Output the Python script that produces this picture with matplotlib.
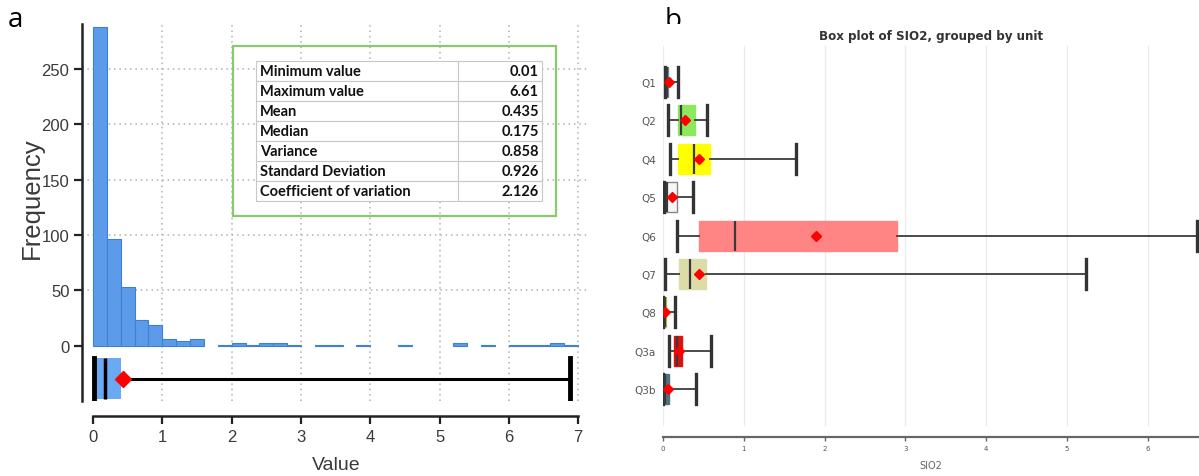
import numpy as np
import matplotlib
matplotlib.use('Agg')
import matplotlib.pyplot as plt
from matplotlib.patches import Rectangle

# ---------------- panel a data ----------------
hist_counts = [288, 96, 53, 23, 19, 6, 4, 6, 0, 1, 2, 1, 2, 2, 1, 0, 1, 1, 0,
               1, 0, 0, 1, 0, 0, 0, 2, 0, 1, 0, 1, 1, 1, 2, 1]
hist_range = (0.0, 7.0)
summary_min = 0.01
summary_q1 = 0.01
summary_median = 0.175
summary_q3 = 0.40
summary_whishi = 6.88
summary_mean = 0.435

stat_names = ["Minimum value", "Maximum value", "Mean", "Median", "Variance",
              "Standard Deviation", "Coefficient of variation"]
stat_values = ["0.01", "6.61", "0.435", "0.175", "0.858", "0.926", "2.126"]

# ---------------- panel b data ----------------
units = ['Q1', 'Q2', 'Q4', 'Q5', 'Q6', 'Q7', 'Q8', 'Q3a', 'Q3b']
b_whislo = [0.03, 0.06, 0.09, 0.01, 0.17, 0.025, 0.005, 0.075, 0.005]
b_q1 = [0.04, 0.19, 0.19, 0.02, 0.45, 0.20, 0.01, 0.14, 0.005]
b_med = [0.05, 0.22, 0.38, 0.05, 0.89, 0.33, 0.02, 0.17, 0.03]
b_q3 = [0.06, 0.40, 0.58, 0.17, 2.90, 0.53, 0.04, 0.23, 0.075]
b_whishi = [0.18, 0.54, 1.65, 0.375, 6.61, 5.24, 0.15, 0.60, 0.41]
b_mean = [0.08, 0.27, 0.44, 0.115, 1.89, 0.445, 0.03, 0.20, 0.065]
b_colors = ['#6d8fa8', '#8ee85e', '#ffff00', '#f7f7f7', '#ff8484', '#dcdca8',
            '#c9c040', '#e01010', '#4f7282']
b_edges = ['#6d8fa8', '#8ee85e', '#ffff00', '#888888', '#ff8484', '#dcdca8',
           '#c9c040', '#e01010', '#4f7282']

W, H = 1199, 477
fig = plt.figure(figsize=(W / 100, H / 100), dpi=100)

def fx(px):
    return px / W

def fy(py):
    return 1 - py / H

# ================= panel a =================
axa = fig.add_axes([fx(82), fy(402), fx(508), (402 - 25) / H])
nb = len(hist_counts)
edges = np.linspace(hist_range[0], hist_range[1], nb + 1)
counts = np.array(hist_counts)
mask = counts > 0
axa.bar(edges[:-1][mask], counts[mask], width=edges[1] - edges[0], align='edge',
        color='#5b9bea', edgecolor='#3f80d2', linewidth=0.8, zorder=3)

stats_a = [dict(whislo=summary_min, q1=summary_q1, med=summary_median,
                q3=summary_q3, whishi=summary_whishi, mean=summary_mean)]
bpa = axa.bxp(stats_a, positions=[-30], widths=37, capwidths=37,
              orientation='horizontal', patch_artist=True, showmeans=True,
              showfliers=False,
              boxprops=dict(facecolor='#6aaaf2', edgecolor='none', linewidth=0),
              medianprops=dict(color='black', linewidth=2.5),
              whiskerprops=dict(color='black', linewidth=2.2),
              capprops=dict(color='black', linewidth=3.5),
              meanprops=dict(marker='D', markerfacecolor='red',
                             markeredgecolor='red', markersize=8),
              manage_ticks=False, zorder=4)

axa.set_xlim(-0.159, 7.17)
axa.set_ylim(-50, 290.6)
for v in [1, 2, 3, 4, 5, 6, 7]:
    axa.axvline(v, color='#b0b0b0', linestyle=(0, (1, 2.5)), linewidth=1.1, zorder=1)
for v in [50, 100, 150, 200, 250]:
    axa.axhline(v, color='#b0b0b0', linestyle=(0, (1, 2.5)), linewidth=1.1, zorder=1)

axa.spines['top'].set_visible(False)
axa.spines['right'].set_visible(False)
axa.spines['bottom'].set_position(('outward', 10.8))
axa.spines['bottom'].set_bounds(0, 7)
for s in ['bottom', 'left']:
    axa.spines[s].set_linewidth(1.8)
    axa.spines[s].set_color('#222222')
axa.set_xticks(range(0, 8))
axa.set_yticks([0, 50, 100, 150, 200, 250])
tickfont = 'Liberation Sans'
axa.tick_params(axis='both', length=6, width=1.6, color='#222222',
                labelcolor='#3a3a3a', labelsize=12, pad=3)
for lab in axa.get_xticklabels() + axa.get_yticklabels():
    lab.set_family(tickfont)
axa.set_xlabel('Value', fontsize=14, family=tickfont, color='#3a3a3a', labelpad=9)
axa.set_ylabel('Frequency', fontsize=18.5, family='Liberation Sans', color='#3a3a3a',
               labelpad=0)
axa.yaxis.set_label_coords(-0.075, 0.54)

# stats table
fig.patches.append(Rectangle((fx(233), fy(217)), fx(556 - 233), (217 - 47) / H,
                             transform=fig.transFigure, fill=False,
                             edgecolor='#8cc86e', linewidth=1.6, zorder=5))
tax = fig.add_axes([fx(256), fy(202), fx(542 - 256), 140 / H])
tax.axis('off')
cells = [[n, v] for n, v in zip(stat_names, stat_values)]
tbl = tax.table(cellText=cells, bbox=[0, 0, 1, 1],
                colWidths=[202 / 286, 84 / 286])
tbl.auto_set_font_size(False)
for (r, c), cell in tbl.get_celld().items():
    cell.set_edgecolor('#c8c8c8')
    cell.set_linewidth(0.8)
    txt = cell.get_text()
    txt.set_fontsize(10.5)
    txt.set_fontweight('bold')
    txt.set_family(['Lato', 'DejaVu Sans'])
    txt.set_color('#111111')
    if c == 0:
        cell._loc = 'left'
        txt.set_ha('left')
        cell.PAD = 0.02
    else:
        cell._loc = 'right'
        txt.set_ha('right')
        cell.PAD = 0.04

fig.text(fx(15), fy(20), 'a', fontsize=20, family=['Open Sans', 'DejaVu Sans'],
         ha='center', va='center')

# ================= panel b =================
axb = fig.add_axes([fx(663), fy(427), fx(1199 - 663), (427 - 47) / H])
stats_b = [dict(whislo=a, q1=b, med=c, q3=d, whishi=e, mean=m)
           for a, b, c, d, e, m in zip(b_whislo, b_q1, b_med, b_q3, b_whishi, b_mean)]
pos = list(range(len(units)))
bpb = axb.bxp(stats_b, positions=pos, widths=0.78, capwidths=0.78,
              orientation='horizontal', patch_artist=True, showmeans=True,
              showfliers=False,
              boxprops=dict(linewidth=1.0),
              medianprops=dict(color='#3a3a3a', linewidth=1.6),
              whiskerprops=dict(color='#4a4a4a', linewidth=1.4),
              capprops=dict(color='#333333', linewidth=2.4),
              meanprops=dict(marker='D', markerfacecolor='red',
                             markeredgecolor='red', markersize=5.5),
              manage_ticks=False, zorder=3)
for patch, fc, ec in zip(bpb['boxes'], b_colors, b_edges):
    patch.set_facecolor(fc)
    patch.set_edgecolor(ec)

axb.set_xlim(0, 6.634)
axb.set_ylim(8.96, -0.94)
axb.set_yticks(pos)
axb.set_yticklabels(units)
axb.set_xticks(range(0, 7))
axb.grid(axis='x', color='#ebebeb', linewidth=1.0, zorder=0)
axb.set_axisbelow(True)
for s in ['top', 'right', 'left']:
    axb.spines[s].set_visible(False)
axb.spines['bottom'].set_position(('outward', 8))
axb.spines['bottom'].set_color('#666666')
axb.spines['bottom'].set_linewidth(1.6)
axb.tick_params(axis='y', length=0, labelsize=7.5, labelcolor='#555555', pad=5)
axb.tick_params(axis='x', length=3, width=1, color='#666666', labelsize=5,
                labelcolor='#555555', pad=3)
axb.set_xlabel('SIO2', fontsize=7, color='#666666', labelpad=6)
axb.set_title('Box plot of SIO2, grouped by unit', fontsize=8.6, fontweight='bold',
              color='#333333', pad=5)

# panel label b, bottom partly hidden by pasted plot edge
fig.text(fx(673), fy(21), 'b', fontsize=20, family=['Open Sans', 'DejaVu Sans'],
         ha='center', va='center', zorder=1)
fig.patches.append(Rectangle((fx(640), fy(40)), fx(100), 15 / H,
                             transform=fig.transFigure, facecolor='white',
                             edgecolor='none', zorder=2))

fig.savefig('out.png', dpi=100)
